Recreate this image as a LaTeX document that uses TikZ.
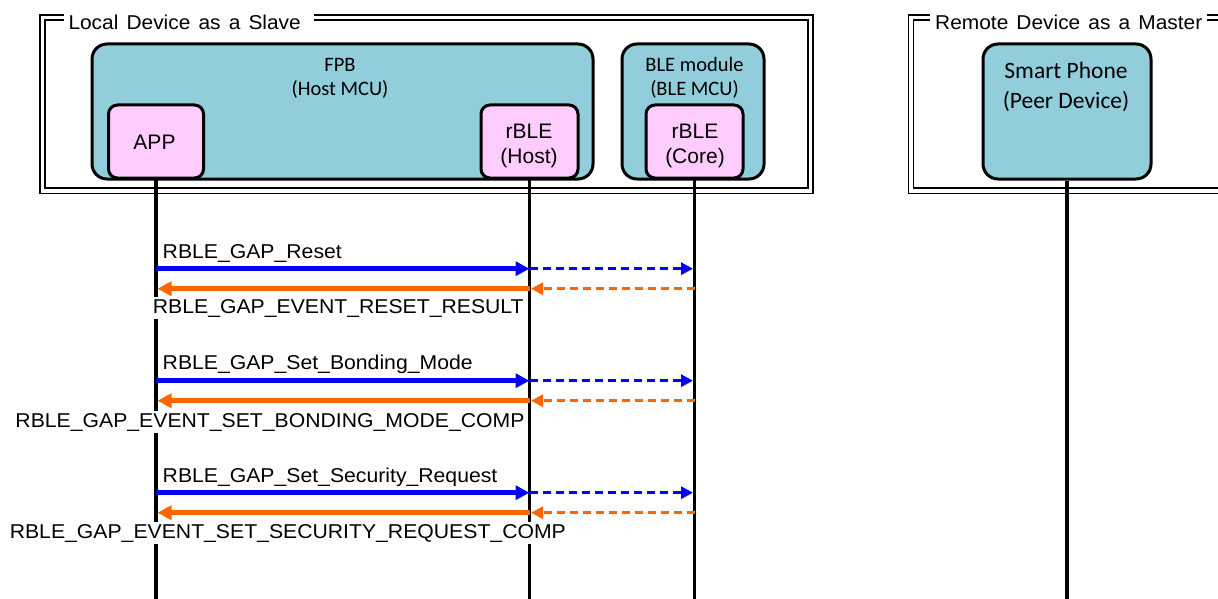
\documentclass[tikz,border=0pt]{standalone}
\usepackage{fontspec}
\setmainfont{Liberation Sans}
\newfontfamily\carlitofont{Carlito}
\newfontfamily\msgfont{Liberation Sans}[FakeStretch=1.06]
\newfontfamily\ttlfont{Liberation Sans}[FakeStretch=1.045,WordSpace=1.4]
\usetikzlibrary{arrows.meta}
\definecolor{boxblue}{HTML}{92CDDC}
\definecolor{boxpink}{HTML}{FFCCFF}
\definecolor{msgblue}{HTML}{0000FF}
\definecolor{msgorange}{HTML}{FF6600}
\begin{document}
\begin{tikzpicture}[x=1pt,y=-1pt,
  frame/.style={draw=black,line width=1.6pt,double=white,double distance=3.6pt,inner sep=0pt},
  ttl/.style={fill=white,font=\ttlfont\fontsize{20}{24}\selectfont,inner xsep=5pt,inner ysep=4pt,anchor=base west},
  bluebox/.style={draw=black,fill=boxblue,line width=3pt,rounded corners=15pt,inner sep=0pt},
  pinkbox/.style={draw=black,fill=boxpink,line width=3pt,rounded corners=9pt,inner sep=0pt},
  bluetxt/.style={font=\carlitofont\fontsize{20.5}{24}\selectfont,align=center,inner sep=0pt},
  pinktxt/.style={font=\fontsize{21}{25}\selectfont,align=center,inner sep=0pt},
  life/.style={draw=black,line width=3.5pt},
  msg/.style={fill=white,font=\msgfont\fontsize{20}{24}\selectfont,inner xsep=1.5pt,inner ysep=2pt,anchor=base west},
  callB/.style={draw=msgblue,line width=4.5pt,-{Triangle[length=14pt,width=14pt]}},
  callBd/.style={draw=msgblue,line width=3.2pt,dash pattern=on 8pt off 5pt,-{Triangle[length=12pt,width=12pt]},shorten >=1.5pt},
  retO/.style={draw=msgorange,line width=4.5pt,-{Triangle[length=14pt,width=14pt]},shorten >=1.5pt},
  retOd/.style={draw=msgorange,line width=3.2pt,dash pattern=on 8pt off 5pt,-{Triangle[length=12pt,width=12pt]},shorten >=1.5pt}
]
\useasboundingbox (0,0) rectangle (1218,599);
\clip (0,0) rectangle (1218,599);

% frames
\node[frame,minimum width=768pt,minimum height=173.3pt] (localfr) at (426.3,104.15) {};
\node[frame,minimum width=340pt,minimum height=173.3pt] (remotefr) at (1081,104.15) {};
\node[ttl] (localT) at (63.3,29.3) {Local Device as a Slave\hspace*{8pt}};
\node[ttl] (remoteT) at (930,29.3) {Remote Device as a Master};

% outer boxes
\node[bluebox,minimum width=501pt,minimum height=135pt] (fpb) at (342.5,111.5) {};
\node[bluebox,minimum width=142pt,minimum height=135pt] (blem) at (693,111.5) {};
\node[bluebox,minimum width=168pt,minimum height=135pt] (phone) at (1067,111.5) {};
\node[bluetxt] (fpbT) at (340,78) {FPB\\(Host MCU)};
\node[bluetxt] (blemT) at (694.5,78) {BLE module\\(BLE MCU)};
\node[bluetxt,font=\carlitofont\fontsize{23.5}{30}\selectfont] (phoneT) at (1066,86.6) {Smart Phone\\(Peer Device)};

% inner boxes
\node[pinkbox,minimum width=95pt,minimum height=73pt] (app) at (156,141.5) {};
\node[pinkbox,minimum width=97pt,minimum height=73pt] (host) at (529.5,141.5) {};
\node[pinkbox,minimum width=97pt,minimum height=73pt] (core) at (694.5,141.5) {};
\node[pinktxt] (appT) at (154.5,142.5) {APP};
\node[pinktxt] (hostT) at (529,145.5) {rBLE\\(Host)};
\node[pinktxt] (coreT) at (695,145.5) {rBLE\\(Core)};

% lifelines
\coordinate (bot) at (0,602);
\draw[life] (app.south) -- (app.south |- bot);
\draw[life] (host.south) -- (host.south |- bot);
\draw[life] (core.south) -- (core.south |- bot);
\draw[life] (phone.south) -- (phone.south |- bot);

% message rows
\coordinate (b1) at (0,268.7);
\coordinate (o1) at (0,288.7);
\coordinate (b2) at (0,380.7);
\coordinate (o2) at (0,400.7);
\coordinate (b3) at (0,492.7);
\coordinate (o3) at (0,512.7);

% labels
\node[msg] (m1a) at (161,258.3) {RBLE\_GAP\_Reset};
\node[msg] (m1b) at (151.2,313.3) {RBLE\_GAP\_EVENT\_RESET\_RESULT};
\node[msg] (m2a) at (161,369.3) {RBLE\_GAP\_Set\_Bonding\_Mode};
\node[msg] (m2b) at (13.8,427.3) {RBLE\_GAP\_EVENT\_SET\_BONDING\_MODE\_COMP};
\node[msg] (m3a) at (161,482.7) {RBLE\_GAP\_Set\_Security\_Request};
\node[msg] (m3b) at (8.1,538) {RBLE\_GAP\_EVENT\_SET\_SECURITY\_REQUEST\_COMP};

% arrows
\foreach \b/\o in {b1/o1,b2/o2,b3/o3}{
  \draw[callB] (app |- \b) -- (host |- \b);
  \draw[callBd] (host |- \b) -- (core |- \b);
  \draw[retOd] (core |- \o) -- (host |- \o);
  \draw[retO] (host |- \o) -- (app |- \o);
}
\end{tikzpicture}
\end{document}
